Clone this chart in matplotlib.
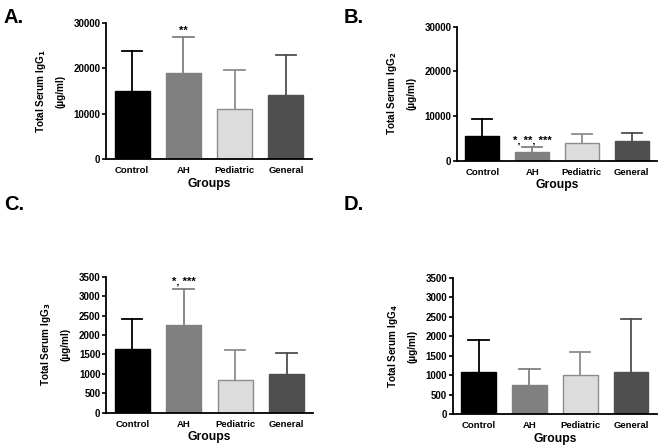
import numpy as np
import matplotlib
matplotlib.use("Agg")
import matplotlib.pyplot as plt

plt.rcParams['font.family'] = ['Liberation Sans', 'DejaVu Sans']
plt.rcParams['font.weight'] = 'bold'
plt.rcParams['mathtext.fontset'] = 'custom'
plt.rcParams['mathtext.rm'] = 'Liberation Sans Narrow:bold'
plt.rcParams['mathtext.bf'] = 'Liberation Sans Narrow:bold'
plt.rcParams['mathtext.default'] = 'bf'

# Data
groups = ["Control", "AH", "Pediatric", "General"]

igg1_mean = [15100, 19000, 11000, 14200]
igg1_top = [23850, 26850, 19550, 22900]

igg2_mean = [5500, 1900, 4050, 4450]
igg2_top = [9250, 3000, 5950, 6150]

igg3_mean = [1630, 2250, 850, 985]
igg3_top = [2420, 3190, 1605, 1540]

igg4_mean = [1075, 740, 1015, 1090]
igg4_top = [1905, 1160, 1595, 2435]

stars1 = ["", "**", "", ""]
stars2 = ["", "*, **, ***", "", ""]
stars3 = ["", "*, ***", "", ""]
stars4 = ["", "", "", ""]

# Styles
face = ["#000000", "#808080", "#dcdcdc", "#4f4f4f"]
edge = ["#000000", "#808080", "#8c8c8c", "#4f4f4f"]
narrow = ['Liberation Sans Narrow', 'Liberation Sans', 'DejaVu Sans']


def panel(fig, rect, sub, means, tops, stars, ymax, ystep, star_y):
    ax = fig.add_axes(rect)
    x = np.arange(len(groups))
    ax.bar(x, means, width=0.68, color=face, edgecolor=edge, linewidth=1.0, zorder=2)
    for i in range(len(groups)):
        ax.plot([x[i], x[i]], [means[i], tops[i]], color=edge[i], lw=1.3, zorder=1)
        ax.plot([x[i] - 0.2, x[i] + 0.2], [tops[i], tops[i]], color=edge[i], lw=1.3, zorder=1)
        if stars[i]:
            ax.text(x[i], tops[i] + star_y, stars[i], ha='center', va='bottom',
                    fontsize=8, fontweight='bold')
    ax.set_xlim(-0.51, 3.51)
    ax.set_ylim(0, ymax)
    ax.set_yticks(np.arange(0, ymax + 1, ystep))
    ax.set_xticks(x)
    ax.set_xticklabels(groups, fontsize=6.8, fontweight='bold')
    ax.tick_params(axis='x', length=0, pad=5)
    ax.tick_params(axis='y', labelsize=7, length=3, width=1.2, pad=1)
    for t in ax.get_yticklabels():
        t.set_fontweight('bold')
    ax.spines['top'].set_visible(False)
    ax.spines['right'].set_visible(False)
    ax.spines['left'].set_linewidth(1.3)
    ax.spines['bottom'].set_linewidth(1.3)
    ax.set_xlabel("Groups", fontsize=8.7, fontweight='bold', labelpad=2)
    ax.set_ylabel("Total Serum IgG$_{" + sub + "}$\n(\u00b5g/ml)", fontsize=7.2,
                  fontweight='bold', family=narrow, labelpad=6, linespacing=1.9)
    return ax


fig = plt.figure(figsize=(6.64, 4.46), dpi=100)

panel(fig, [0.1596, 0.6435, 0.3103, 0.3049], "1", igg1_mean, igg1_top, stars1, 30000, 10000, 300)
panel(fig, [0.6883, 0.6397, 0.3012, 0.3004], "2", igg2_mean, igg2_top, stars2, 30000, 10000, 500)
panel(fig, [0.1596, 0.0747, 0.3114, 0.3049], "3", igg3_mean, igg3_top, stars3, 3500, 500, 50)
panel(fig, [0.6818, 0.0717, 0.3077, 0.3050], "4", igg4_mean, igg4_top, stars4, 3500, 500, 50)

fig.text(0.006, 0.982, "A.", fontsize=14.5, fontweight='bold', va='top')
fig.text(0.518, 0.982, "B.", fontsize=14.5, fontweight='bold', va='top')
fig.text(0.006, 0.562, "C.", fontsize=14.5, fontweight='bold', va='top')
fig.text(0.518, 0.562, "D.", fontsize=14.5, fontweight='bold', va='top')

fig.savefig("out.png", dpi=100)
